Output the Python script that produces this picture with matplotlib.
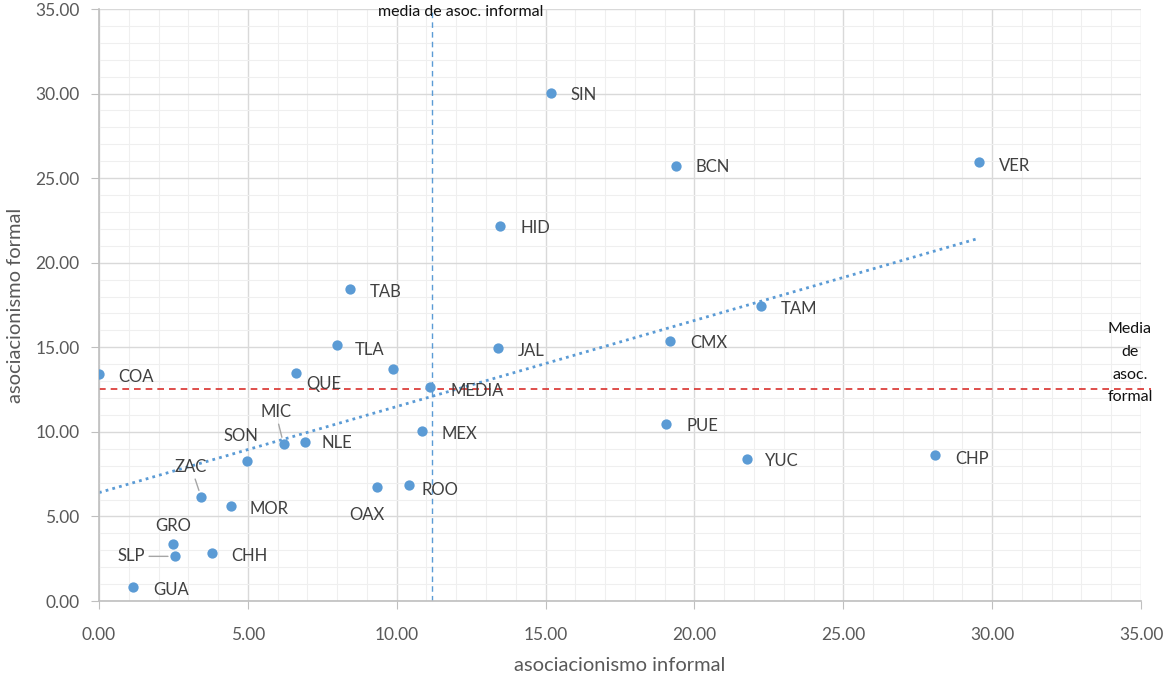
import numpy as np
import matplotlib
matplotlib.use('Agg')
import matplotlib.pyplot as plt
from matplotlib.ticker import MultipleLocator, FormatStrFormatter

plt.rcParams['font.family'] = ['Lato', 'DejaVu Sans']

# state codes and values
states = ['SIN', 'BCN', 'VER', 'HID', 'TAB', 'TAM', 'TLA', 'JAL', 'CMX', 'COA',
          'QUE', '', 'MEDIA', 'MEX', 'PUE', 'SON', 'MIC', 'NLE', 'YUC', 'CHP',
          'ZAC', 'MOR', 'OAX', 'ROO', 'GRO', 'SLP', 'CHH', 'GUA']
informal = [15.18, 19.38, 29.56, 13.47, 8.42, 22.24, 7.99, 13.40, 19.18, 0.00,
            6.62, 9.88, 11.12, 10.84, 19.05, 4.97, 6.20, 6.91, 21.77, 28.08,
            3.43, 4.43, 9.33, 10.42, 2.49, 2.55, 3.79, 1.15]
formal = [30.04, 25.72, 25.96, 22.18, 18.45, 17.45, 15.12, 14.96, 15.38, 13.42,
          13.50, 13.70, 12.66, 10.07, 10.47, 8.28, 9.28, 9.40, 8.40, 8.63,
          6.15, 5.60, 6.76, 6.86, 3.35, 2.64, 2.84, 0.83]
media_informal = 11.2
media_formal = 12.56

# label placement (pixels): dx, dy, horizontal alignment, leader line
label_style = {
    'SIN': (20, -2, 'left', False), 'BCN': (20, -1, 'left', False),
    'VER': (20, -4, 'left', False), 'HID': (20, -2, 'left', False),
    'TAB': (20, -3, 'left', False), 'TAM': (20, -3, 'left', False),
    'TLA': (18, -5, 'left', False), 'JAL': (20, -3, 'left', False),
    'CMX': (20, -2, 'left', False), 'COA': (19, -3, 'left', False),
    'QUE': (10, -11, 'left', False), 'MEDIA': (20, -4, 'left', False),
    'MEX': (20, -3, 'left', False), 'PUE': (20, -2, 'left', False),
    'NLE': (17, -1, 'left', False), 'YUC': (18, -2, 'left', False),
    'CHP': (20, -4, 'left', False), 'MOR': (19, -3, 'left', False),
    'ROO': (12, -5, 'left', False), 'OAX': (-10, -28, 'center', False),
    'CHH': (19, -3, 'left', False), 'GUA': (20, -3, 'left', False),
    'SON': (-6, 25, 'center', False), 'MIC': (-8, 32, 'center', True),
    'ZAC': (-10, 30, 'center', True), 'GRO': (0, 18, 'center', False),
    'SLP': (-30, 0, 'right', True),
}

blue = '#5B9BD5'
txt = '#404040'

fig = plt.figure(figsize=(11.64, 6.77), dpi=100)
ax = fig.add_axes([99 / 1164, 76 / 677, 1042 / 1164, 592 / 677])

ax.set_xlim(0, 35)
ax.set_ylim(0, 35)
ax.xaxis.set_major_locator(MultipleLocator(5))
ax.yaxis.set_major_locator(MultipleLocator(5))
ax.xaxis.set_minor_locator(MultipleLocator(1))
ax.yaxis.set_minor_locator(MultipleLocator(1))
ax.xaxis.set_major_formatter(FormatStrFormatter('%.2f'))
ax.yaxis.set_major_formatter(FormatStrFormatter('%.2f'))
ax.grid(which='major', color='#d9d9d9', lw=1.0, zorder=0)
ax.grid(which='minor', color='#efefef', lw=0.8, zorder=0)
ax.set_axisbelow(True)
for s in ['top', 'right']:
    ax.spines[s].set_visible(False)
for s in ['left', 'bottom']:
    ax.spines[s].set_color('#bfbfbf')
    ax.spines[s].set_linewidth(1.2)
ax.tick_params(which='major', length=5.5, color='#bfbfbf', labelsize=12.5,
               labelcolor='#595959')
ax.tick_params(which='minor', length=0)
ax.tick_params(axis='y', pad=8.5)
ax.tick_params(axis='x', pad=13)

ax.set_xlabel('asociacionismo informal', fontsize=14.5, color='#595959', labelpad=10)
ax.set_ylabel('asociacionismo formal', fontsize=14.5, color='#595959', labelpad=8)

# linear trend line
x = np.array(informal)
y = np.array(formal)
slope, intercept = np.polyfit(x, y, 1)
xt = np.array([0, x.max()])
ax.plot(xt, intercept + slope * xt, ls=(0, (1, 1.5)), color=blue, lw=2, zorder=2)

# mean lines
ax.axvline(media_informal, color=blue, ls=(0, (4, 3)), lw=1, zorder=2)
ax.plot([0, 35.35], [media_formal, media_formal], color='#d9302c', ls=(0, (4, 3)),
        lw=1.2, zorder=2, clip_on=False)
ax.text(12.16, 34.83, 'media de asoc. informal', ha='center', va='center',
        fontsize=11.5, color='#111111', clip_on=False)
ax.text(34.63, 14.05, 'Media\nde\nasoc.\nformal', ha='center', va='center',
        fontsize=11.5, color='#111111', linespacing=1.78, clip_on=False)

ax.scatter(informal, formal, s=55, color=blue, zorder=3, linewidths=0)

for name, xi, yi in zip(states, informal, formal):
    if not name:
        continue
    dx, dy, ha, leader = label_style[name]
    props = None
    if leader:
        props = dict(arrowstyle='-', color='#a6a6a6', lw=1, shrinkA=1, shrinkB=5)
    ax.annotate(name, (xi, yi), xytext=(dx, dy), textcoords='offset pixels',
                ha=ha, va='center', fontsize=12, color=txt,
                arrowprops=props, zorder=4)

fig.savefig('out.png', dpi=100)
